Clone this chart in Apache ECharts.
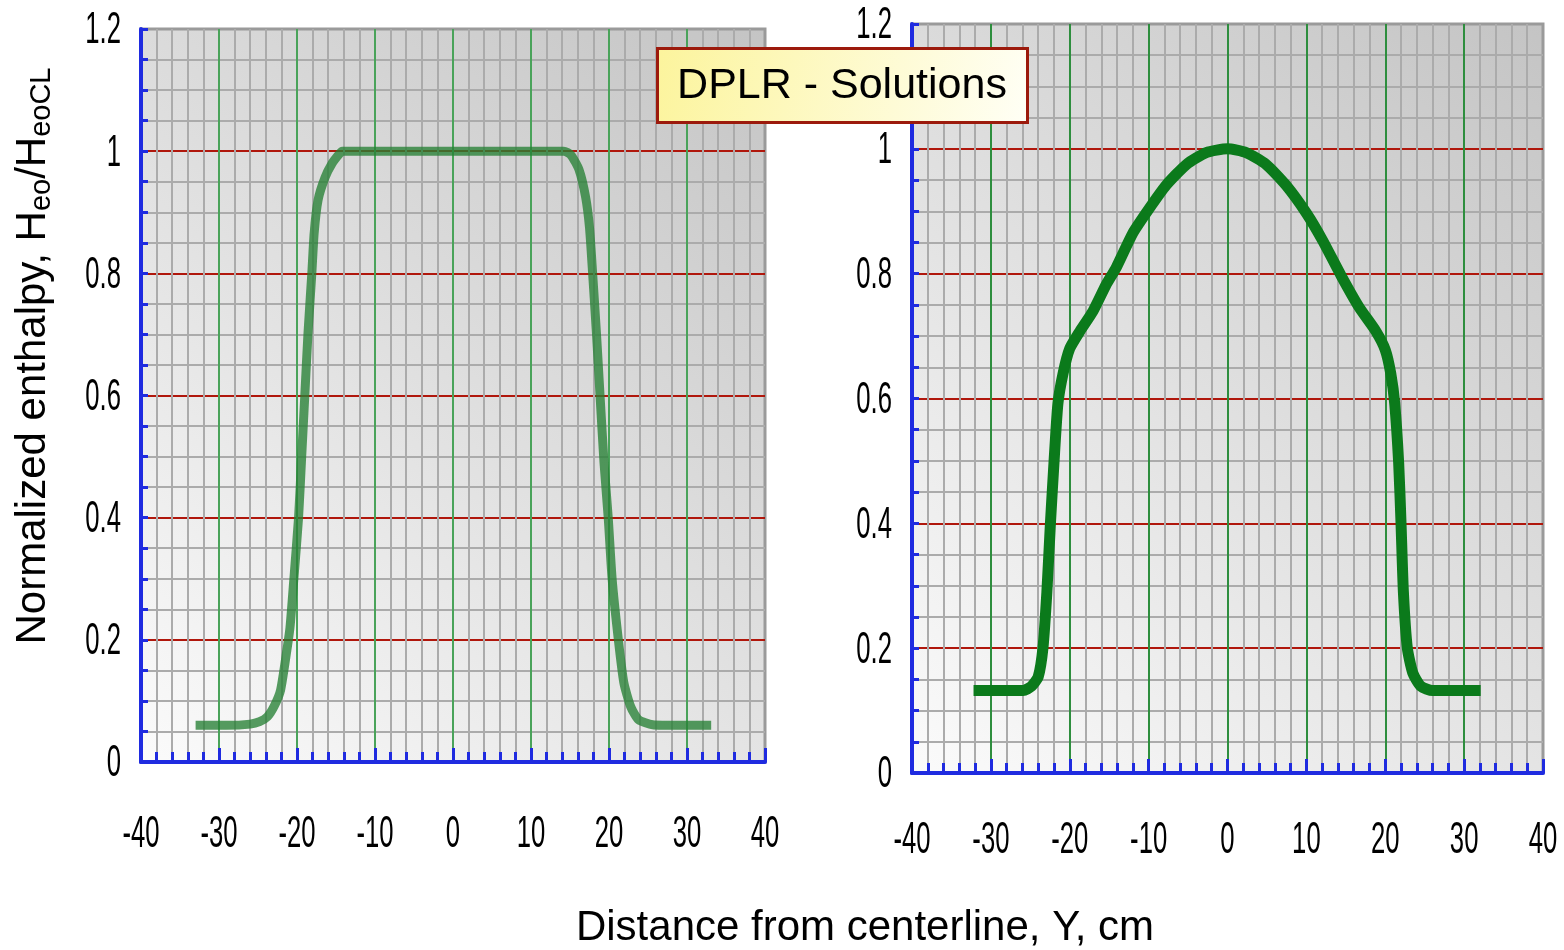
<!DOCTYPE html>
<html><head><meta charset="utf-8">
<script src="https://cdn.jsdelivr.net/npm/echarts@6/dist/echarts.min.js"></script>
<style>html,body{margin:0;padding:0;background:#fff}#c{width:1564px;height:950px}</style>
</head><body><div id="c"></div>
<script>
// ---- data ----
const xTicks = [-40, -30, -20, -10, 0, 10, 20, 30, 40];
const xTickLabels = ['-40', '-30', '-20', '-10', '0', '10', '20', '30', '40'];
const yTicks = [0, 0.2, 0.4, 0.6, 0.8, 1, 1.2];
const yTickLabels = ['0', '0.2', '0.4', '0.6', '0.8', '1', '1.2'];

// left panel curve
const leftX = [-33, -29, -26, -24.8, -23.8, -22.9, -22.1, -21.3, -20.9, -20.4, -19.8, -19.4, -19.0, -18.6, -18.1, -17.8, -17.3, -16.4, -15.5, -14.6, -14.2, 0, 14.2, 15.1, 16.15, 17.0, 17.5, 17.9, 18.4, 18.85, 19.36, 19.9, 20.4, 21.2, 21.9, 22.8, 23.8, 25.6, 29, 33.1];
const leftY = [0.06, 0.06, 0.062, 0.066, 0.074, 0.092, 0.118, 0.183, 0.22, 0.3, 0.4, 0.5, 0.6, 0.7, 0.8, 0.866, 0.92, 0.957, 0.98, 0.995, 1.0, 1.0, 1.0, 0.994, 0.97, 0.925, 0.875, 0.8, 0.7, 0.6, 0.49, 0.4, 0.3, 0.2, 0.13, 0.09, 0.069, 0.061, 0.06, 0.06];

// right panel curve
const rightX = [-32.2, -28, -25.9, -24.85, -24.0, -23.4, -22.9, -22.45, -22.0, -21.5, -20.85, -20.0, -18.7, -17.05, -15.4, -14.1, -12.0, -10.0, -7.76, -5.2, -2.7, 0, 2.36, 4.9, 7.4, 10.0, 12.07, 14.4, 16.7, 18.8, 20.0, 20.7, 21.2, 21.7, 22.0, 22.3, 22.8, 23.5, 24.5, 26.0, 29, 32.1];
const rightY = [0.132, 0.132, 0.132, 0.139, 0.154, 0.2, 0.29, 0.4, 0.497, 0.592, 0.64, 0.68, 0.708, 0.74, 0.782, 0.81, 0.865, 0.903, 0.942, 0.975, 0.994, 1.0, 0.994, 0.975, 0.942, 0.897, 0.853, 0.797, 0.746, 0.708, 0.678, 0.64, 0.592, 0.497, 0.4, 0.29, 0.2, 0.16, 0.139, 0.132, 0.132, 0.132];

const xTitle = 'Distance from centerline, Y, cm';
const boxLabel = 'DPLR - Solutions';

// ---- chart ----
const chart = echarts.init(document.getElementById('c'), null, {renderer: 'canvas'});
const BLUE = '#1f2be0';
const FONT = '"Liberation Sans", Arial, sans-serif';

function bg() {
  return {type: 'linear', x: 0, y: 1, x2: 1, y2: 0,
    colorStops: [{offset: 0, color: '#fbfbfb'}, {offset: 1, color: '#c4c4c4'}]};
}
function xAxisCfg(gi, green) {
  return {
    type: 'value', gridIndex: gi, min: -40, max: 40, interval: 10,
    axisLine: {show: true, onZero: false, lineStyle: {color: BLUE, width: 4}},
    axisTick: {show: true, inside: true, length: 14, lineStyle: {color: BLUE, width: 3}},
    minorTick: {show: true, splitNumber: 5, length: 10, lineStyle: {color: BLUE, width: 3}},
    axisLabel: {show: false},
    splitLine: {show: true, showMinLine: false, showMaxLine: false, lineStyle: {color: green, width: 2}},
    minorSplitLine: {show: true, lineStyle: {color: '#ababab', width: 2}}
  };
}
function yAxisCfg(gi) {
  return {
    type: 'value', gridIndex: gi, min: 0, max: 1.2, interval: 0.2,
    axisLine: {show: true, onZero: false, lineStyle: {color: BLUE, width: 4}},
    axisTick: {show: true, inside: true, length: 7, lineStyle: {color: BLUE, width: 3}},
    minorTick: {show: true, splitNumber: 4, length: 7, lineStyle: {color: BLUE, width: 3}},
    axisLabel: {show: false},
    splitLine: {show: true, showMinLine: false, showMaxLine: false, lineStyle: {color: '#b0170c', width: 2}},
    minorSplitLine: {show: true, lineStyle: {color: '#ababab', width: 2}}
  };
}

const option = {
  animation: false,
  backgroundColor: '#ffffff',
  grid: [
    {left: 141, top: 29, width: 624, height: 733, show: true, backgroundColor: bg(), borderColor: '#9a9a9a', borderWidth: 3},
    {left: 912, top: 24, width: 631, height: 749, show: true, backgroundColor: bg(), borderColor: '#9a9a9a', borderWidth: 3}
  ],
  xAxis: [xAxisCfg(0, '#4aa35a'), xAxisCfg(1, '#2e8e3e')],
  yAxis: [yAxisCfg(0), yAxisCfg(1)],
  series: [
    {type: 'line', xAxisIndex: 0, yAxisIndex: 0, showSymbol: false, smooth: 0.2, z: 5,
      data: leftX.map((x, i) => [x, leftY[i]]),
      lineStyle: {color: 'rgba(38,128,52,0.78)', width: 9}},
    {type: 'line', xAxisIndex: 1, yAxisIndex: 1, showSymbol: false, smooth: 0.2, z: 5,
      data: rightX.map((x, i) => [x, rightY[i]]),
      lineStyle: {color: '#0b7a1b', width: 11}}
  ]
};
chart.setOption(option);

// tick labels (compressed, as in the original picture), positioned with the library's scales
const g = [];
const SX = 0.57;
[0, 1].forEach(function (gi) {
  yTicks.forEach(function (v, i) {
    const p = chart.convertToPixel({gridIndex: gi}, [-40, v]);
    g.push({type: 'text', x: p[0] - 20, y: p[1] + 2, scaleX: SX, z: 10,
      style: {text: yTickLabels[i], fontSize: 45, fontFamily: FONT, fill: '#000',
        align: 'right', textAlign: 'right', verticalAlign: 'middle', textVerticalAlign: 'middle'}});
  });
  xTicks.forEach(function (v, i) {
    const p = chart.convertToPixel({gridIndex: gi}, [v, 0]);
    g.push({type: 'text', x: p[0], y: p[1] + (gi === 0 ? 73 : 68), scaleX: SX, z: 10,
      style: {text: xTickLabels[i], fontSize: 45, fontFamily: FONT, fill: '#000',
        align: 'center', textAlign: 'center', verticalAlign: 'middle', textVerticalAlign: 'middle'}});
  });
});

// y axis title with subscripts
g.push({type: 'text', x: 34, y: 356, rotation: Math.PI / 2, z: 10,
  style: {
    text: '{m|Normalized enthalpy, H}{s|eo}{m|/H}{s|eoCL}',
    align: 'center', textAlign: 'center', verticalAlign: 'middle', textVerticalAlign: 'middle',
    fill: '#000',
    rich: {
      m: {fontSize: 42, fontFamily: FONT, lineHeight: 44, verticalAlign: 'top', fill: '#000'},
      s: {fontSize: 29, fontFamily: FONT, lineHeight: 29, padding: [20, 0, 0, 0], verticalAlign: 'bottom', fill: '#000'}
    }
  }});

// x axis title
g.push({type: 'text', x: 865, y: 928, z: 10,
  style: {text: xTitle, fontSize: 42, fontFamily: FONT, fill: '#000',
    align: 'center', textAlign: 'center', verticalAlign: 'middle', textVerticalAlign: 'middle'}});

// label box
g.push({type: 'rect', z: 20, shape: {x: 657.5, y: 48.5, width: 370, height: 74},
  style: {fill: {type: 'linear', x: 0, y: 0, x2: 1, y2: 1,
      colorStops: [{offset: 0, color: '#fcf49c'}, {offset: 1, color: '#fffff6'}]},
    stroke: '#9c1a0c', lineWidth: 3}});
g.push({type: 'text', x: 842, y: 86, z: 21,
  style: {text: boxLabel, fontSize: 43, fontFamily: FONT, fill: '#000',
    align: 'center', textAlign: 'center', verticalAlign: 'middle', textVerticalAlign: 'middle'}});

chart.setOption({graphic: {elements: g}});
</script>
</body></html>
